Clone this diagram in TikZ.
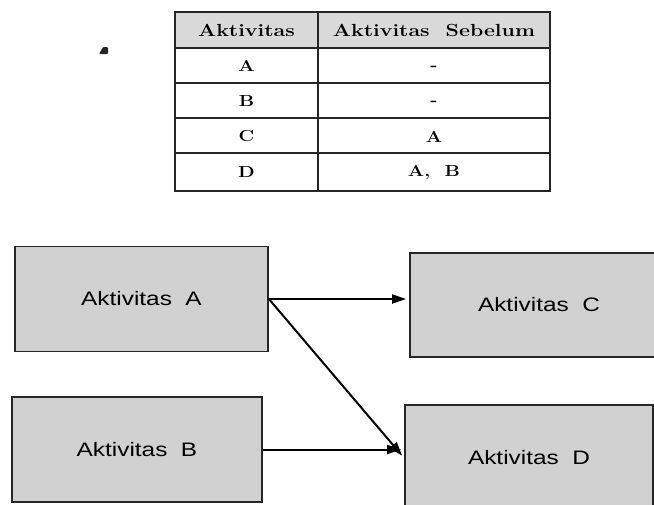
\documentclass[tikz,border=0pt]{standalone}
\usepackage{graphicx}
\usepackage{fontspec}
\newfontfamily\boxfont{Liberation Sans}
\usetikzlibrary{arrows.meta}
\begin{document}
\begin{tikzpicture}[x=1pt,y=-1pt,
  actbox/.style={draw=black!85,line width=1.8pt,fill=black!18,inner sep=0pt},
  flow/.style={line width=2pt,-{Triangle[length=14pt,width=9pt]},shorten >=3pt},
  boxtext/.style={font=\boxfont\fontsize{19.5}{22}\selectfont},
  headtext/.style={font=\fontsize{17.5}{20}\selectfont\bfseries,inner sep=0pt},
  celltext/.style={font=\fontsize{16}{18}\selectfont\bfseries,inner sep=0pt},
  tline/.style={line width=1.4pt,draw=black!85},
  touter/.style={line width=1.9pt,draw=black!85}]
\useasboundingbox (0,0) rectangle (654,504);
\clip (0,0) rectangle (654,504);

% small mark
\fill[black!85,rounded corners=1pt] (99,54) -- (103,47) -- (108,47) -- (108,54) -- cycle;

% table
\fill[black!15] (175,12) rectangle (550,48);
\foreach \yy in {48,83,118,153} \draw[tline] (175,\yy) -- (550,\yy);
\draw[tline] (318,12) -- (318,191);
\draw[touter] (175,12) rectangle (550,191);

\node[headtext] (h1) at (246.5,30) {\scalebox{1.22}[1]{Aktivitas}};
\node[headtext] (h2) at (434,30) {\scalebox{1.22}[1]{Aktivitas\ \ Sebelum}};
\node[celltext] (r1a) at (246.5,66) {\scalebox{1.2}[1]{A}};
\node[celltext] (r1b) at (434,68) {\scalebox{1.2}[1]{-}};
\node[celltext] (r2a) at (246.5,101) {\scalebox{1.2}[1]{B}};
\node[celltext] (r2b) at (434,103) {\scalebox{1.2}[1]{-}};
\node[celltext] (r3a) at (246.5,136) {\scalebox{1.2}[1]{C}};
\node[celltext] (r3b) at (434,137) {\scalebox{1.2}[1]{A}};
\node[celltext] (r4a) at (246.5,172) {\scalebox{1.2}[1]{D}};
\node[celltext] (r4b) at (434,172) {\scalebox{1.2}[1]{A,\ \ B}};

% activity boxes
\node[actbox,boxtext,minimum width=253pt,minimum height=105pt] (A) at (141.5,299)
  {\scalebox{1.25}[1]{Aktivitas\ \ A}};
\node[actbox,boxtext,minimum width=258pt,minimum height=104pt] (C) at (539,305)
  {\scalebox{1.25}[1]{Aktivitas\ \ C}};
\node[actbox,boxtext,minimum width=250pt,minimum height=105pt] (B) at (137,449.5)
  {\scalebox{1.25}[1]{Aktivitas\ \ B}};
\node[actbox,boxtext,minimum width=248pt,minimum height=106pt] (D) at (529,458)
  {\scalebox{1.25}[1]{Aktivitas\ \ D}};

% connectors
\draw[flow] (A.east) -- (C.west |- A.east);
\draw[flow] (A.east) -- (D.west);
\draw[flow] (B.east) -- (D.west |- B.east);
\end{tikzpicture}
\end{document}
